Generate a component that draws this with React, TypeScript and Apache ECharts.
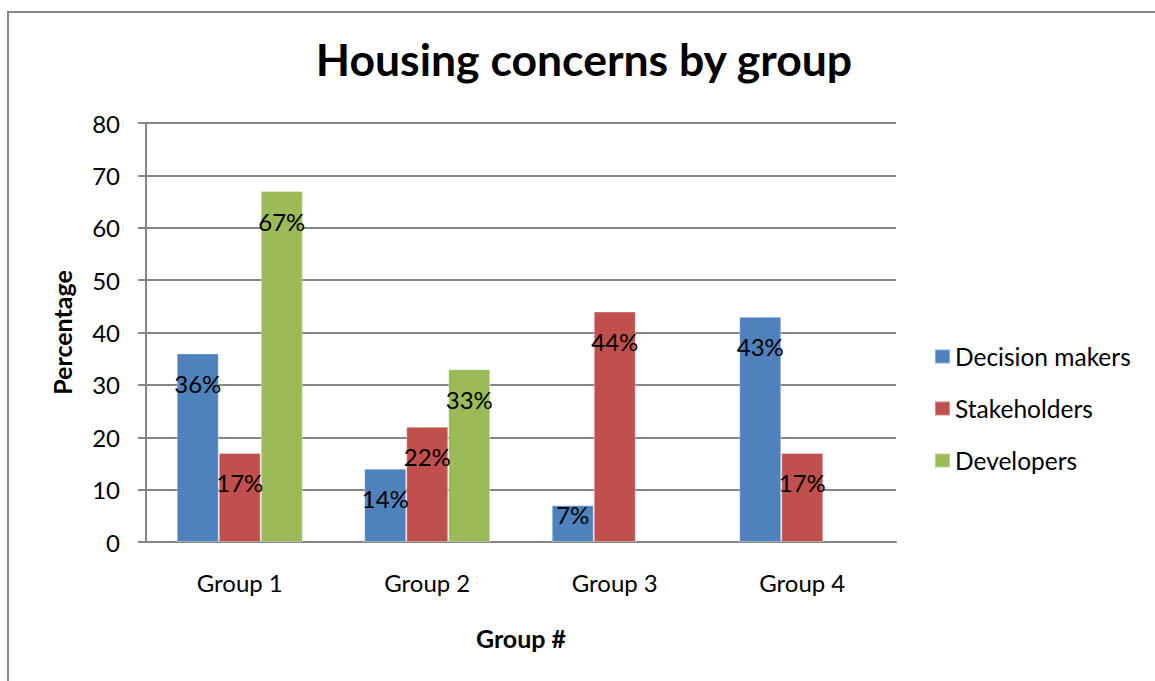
import React, { useEffect, useRef } from "react";
import * as echarts from "echarts";

const categories = ["Group 1", "Group 2", "Group 3", "Group 4"];
const decisionMakers = [36, 14, 7, 43];
const stakeholders = [17, 22, 44, 17];
const developers: (number | null)[] = [67, 33, null, null];
const seriesNames = ["Decision makers", "Stakeholders", "Developers"];
const colors = ["#4F81BD", "#C0504D", "#9BBB59"];
const yTicks = { min: 0, max: 80, interval: 10 };

const FONT = "Lato";

export default function App() {
  const ref = useRef<HTMLDivElement>(null);
  useEffect(() => {
    if (!ref.current) return;
    const chart = echarts.init(ref.current, undefined, { renderer: "svg" });
    const labelBase = {
      show: true,
      position: "insideTop" as const,
      distance: 18,
      color: "#000",
      fontFamily: FONT,
      fontSize: 24,
      formatter: (p: any) => (p.value == null ? "" : p.value + "%"),
    };
    const mkData = (arr: (number | null)[]) =>
      arr.map((v) =>
        v != null && v < 10
          ? { value: v, label: { distance: -3 } }
          : v
      );
    const seriesData = [decisionMakers, stakeholders, developers];
    chart.setOption({
      animation: false,
      backgroundColor: "#fff",
      color: colors,
      title: {
        text: "Housing concerns by group",
        left: 579,
        textAlign: "center",
        top: 31,
        textStyle: { fontFamily: FONT, fontWeight: "bold", fontSize: 44.5, color: "#000" },
      },
      graphic: [
        {
          type: "rect",
          shape: { x: 8, y: 12, width: 1300, height: 800 },
          style: { fill: "none", stroke: "#868686", lineWidth: 2 },
          silent: true,
        },
      ],
      legend: {
        orient: "vertical",
        left: 934,
        top: 344,
        padding: 0,
        itemWidth: 15,
        itemHeight: 14,
        itemGap: 27,
        icon: "rect",
        textStyle: { fontFamily: FONT, fontSize: 24.5, color: "#000", padding: [0, 0, 0, 0] },
        data: seriesNames,
      },
      grid: { left: 146, right: 259, top: 123, bottom: 139, containLabel: false },
      xAxis: {
        type: "category",
        data: categories,
        name: "Group #",
        nameLocation: "middle",
        nameGap: 83,
        nameTextStyle: { fontFamily: FONT, fontWeight: "bold", fontSize: 25, color: "#000" },
        axisLine: { show: true, lineStyle: { color: "#868686", width: 2 } },
        axisTick: { show: false },
        axisLabel: { fontFamily: FONT, fontSize: 24, color: "#000", margin: 28 },
      },
      yAxis: {
        type: "value",
        min: yTicks.min,
        max: yTicks.max,
        interval: yTicks.interval,
        name: "Percentage",
        nameLocation: "middle",
        nameGap: 72,
        nameTextStyle: { fontFamily: FONT, fontWeight: "bold", fontSize: 25, color: "#000" },
        axisLine: { show: true, lineStyle: { color: "#868686", width: 2 } },
        axisTick: { show: true, length: 8, lineStyle: { color: "#868686", width: 2 } },
        splitLine: { show: true, lineStyle: { color: "#868686", width: 2 } },
        axisLabel: { fontFamily: FONT, fontSize: 24, color: "#000", margin: 26 },
      },
      series: seriesNames.map((name, i) => ({
        type: "bar",
        name,
        data: mkData(seriesData[i]),
        barWidth: 42,
        barGap: "0%",
        itemStyle: { color: colors[i], borderColor: "rgba(255,255,255,0.35)", borderWidth: 1 },
        label: labelBase,
      })),
    });
    return () => chart.dispose();
  }, []);
  return (
    <div
      ref={ref}
      style={{ position: "absolute", left: 0, top: 0, width: 1155, height: 681 }}
    />
  );
}
